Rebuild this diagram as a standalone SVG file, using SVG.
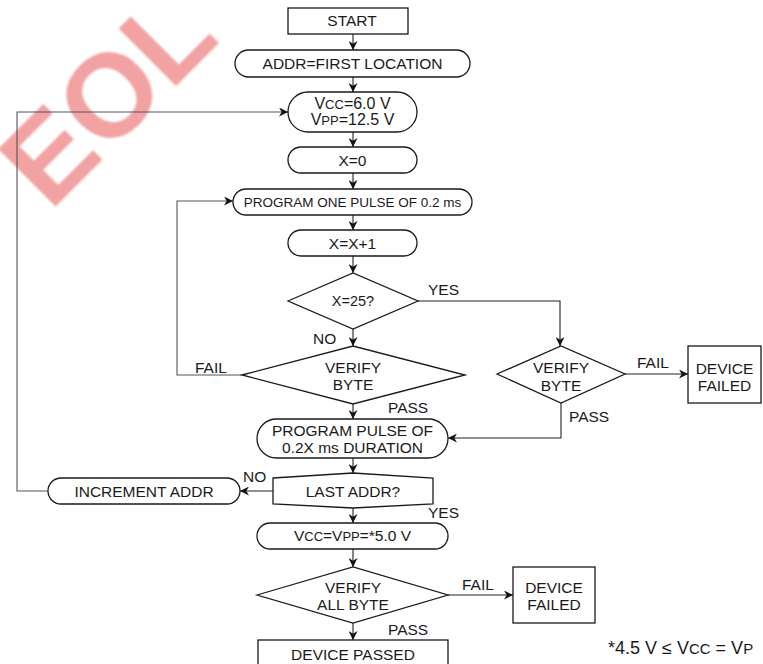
<svg xmlns="http://www.w3.org/2000/svg" width="763" height="664" viewBox="0 0 763 664">
<style>
text{font-family:"Liberation Sans",Arial,sans-serif;font-size:15.5px;fill:#1a1a1a;text-anchor:middle}
.lbl{text-anchor:start}
.sm{font-size:13px}
.shape{fill:#fff;stroke:#1a1a1a;stroke-width:1.3}
.conn{fill:none;stroke:#222;stroke-width:1.1}
.loop{fill:none;stroke:#555;stroke-width:1.1}
.wm{font-family:"Liberation Sans",Arial,sans-serif;font-size:118px;font-weight:bold;fill:#f2a2a2;text-anchor:start}
</style>
<defs>
<marker id="ah" viewBox="0 0 10 10" refX="10" refY="5" markerWidth="9" markerHeight="9" markerUnits="userSpaceOnUse" orient="auto">
<path d="M0,0 L10,5 L0,10 L3,5 Z" fill="#111"/>
</marker>
<filter id="blur"><feGaussianBlur stdDeviation="1.2"/></filter>
</defs>
<rect width="763" height="664" fill="#fff"/>
<g id="watermark" filter="url(#blur)"><text class="wm" transform="translate(50,212) rotate(-45)">EOL</text></g>

<g id="connectors">
<path class="conn" d="M353,34 V50" marker-end="url(#ah)"/>
<path class="conn" d="M353,77 V92" marker-end="url(#ah)"/>
<path class="conn" d="M353,132 V147" marker-end="url(#ah)"/>
<path class="conn" d="M353,173 V189" marker-end="url(#ah)"/>
<path class="conn" d="M353,215 V230" marker-end="url(#ah)"/>
<path class="conn" d="M353,256 V273" marker-end="url(#ah)"/>
<path class="conn" d="M418,301 H560 V346" marker-end="url(#ah)"/>
<path class="conn" d="M353,329 V346" marker-end="url(#ah)"/>
<path class="loop" d="M242,375 H177 V201 H233" marker-end="url(#ah)"/>
<path class="conn" d="M625,374 H688" marker-end="url(#ah)"/>
<path class="conn" d="M561,403 V438 H448" marker-end="url(#ah)"/>
<path class="conn" d="M353,404 V419" marker-end="url(#ah)"/>
<path class="conn" d="M353,458 V473" marker-end="url(#ah)"/>
<path class="conn" d="M273,491 H240" marker-end="url(#ah)"/>
<path class="loop" d="M48,491 H17 V112 H288" marker-end="url(#ah)"/>
<path class="conn" d="M353,508 V523" marker-end="url(#ah)"/>
<path class="conn" d="M353,549 V567" marker-end="url(#ah)"/>
<path class="conn" d="M448,595 H513" marker-end="url(#ah)"/>
<path class="conn" d="M353,623 V640" marker-end="url(#ah)"/>
</g>

<g id="labels">
<text class="lbl" x="428" y="295">YES</text>
<text class="lbl" x="313" y="344">NO</text>
<text class="lbl" x="195" y="373">FAIL</text>
<text class="lbl" x="637" y="368">FAIL</text>
<text class="lbl" x="388" y="413">PASS</text>
<text class="lbl" x="569" y="422">PASS</text>
<text class="lbl" x="243" y="482">NO</text>
<text class="lbl" x="428" y="518">YES</text>
<text class="lbl" x="462" y="590">FAIL</text>
<text class="lbl" x="388" y="635">PASS</text>
</g>

<g id="start"><rect class="shape" x="288" y="8" width="120" height="26"/><text x="352" y="26">START</text></g>
<g id="addr-first"><rect class="shape" x="235" y="50" width="235" height="27" rx="13.5"/><text x="352.5" y="69">ADDR=FIRST LOCATION</text></g>
<g id="vcc-vpp"><rect class="shape" x="288" y="92" width="129" height="40" rx="20"/>
<text x="352.5" y="109" style="font-size:16px">V<tspan class="sm">CC</tspan>=6.0 V</text>
<text x="352.5" y="125" style="font-size:16px">V<tspan class="sm">PP</tspan>=12.5 V</text></g>
<g id="x0"><rect class="shape" x="288" y="147" width="129" height="26" rx="13"/><text x="352.5" y="166">X=0</text></g>
<g id="program-one"><rect class="shape" x="233" y="189" width="239" height="26" rx="13"/><text x="352.5" y="207" style="font-size:13.5px">PROGRAM ONE PULSE OF 0.2 ms</text></g>
<g id="x-inc"><rect class="shape" x="288" y="230" width="129" height="26" rx="13"/><text x="352.5" y="249">X=X+1</text></g>
<g id="x25"><path class="shape" d="M288,301 L353,273 L418,301 L353,329 Z"/><text x="353" y="306" style="font-size:14.5px">X=25?</text></g>
<g id="verify-byte"><path class="shape" d="M242,375 L353,346 L465,375 L353,404 Z"/><text x="353" y="373">VERIFY</text><text x="353" y="390">BYTE</text></g>
<g id="verify-byte-2"><path class="shape" d="M497,374 L561,346 L625,374 L561,403 Z"/><text x="561" y="373">VERIFY</text><text x="561" y="391">BYTE</text></g>
<g id="device-failed-1"><rect class="shape" x="688" y="346" width="73" height="57"/><text x="724.5" y="374">DEVICE</text><text x="724.5" y="391">FAILED</text></g>
<g id="program-pulse"><rect class="shape" x="257" y="419" width="191" height="39" rx="19.5"/><text x="352.5" y="436">PROGRAM PULSE OF</text><text x="352.5" y="453">0.2X ms DURATION</text></g>
<g id="last-addr"><path class="shape" d="M273,478 L353,473 L433,478 L433,504 L353,508 L273,504 Z"/><text x="353" y="497">LAST ADDR?</text></g>
<g id="increment-addr"><rect class="shape" x="48" y="478" width="192" height="26" rx="13"/><text x="144" y="497">INCREMENT ADDR</text></g>
<g id="vcc-vpp-5"><rect class="shape" x="257" y="523" width="191" height="26" rx="13"/><text x="352.5" y="541">V<tspan class="sm">CC</tspan>=V<tspan class="sm">PP</tspan>=*5.0 V</text></g>
<g id="verify-all"><path class="shape" d="M257,595 L353,567 L448,595 L353,623 Z"/><text x="353" y="593">VERIFY</text><text x="353" y="610">ALL BYTE</text></g>
<g id="device-failed-2"><rect class="shape" x="513" y="567" width="82" height="56"/><text x="554" y="593">DEVICE</text><text x="554" y="610">FAILED</text></g>
<g id="device-passed"><rect class="shape" x="258" y="640" width="190" height="34"/><text x="353" y="660">DEVICE PASSED</text></g>
<g id="footnote"><text class="lbl" x="608" y="654" style="font-size:18px">*4.5 V ≤ V<tspan style="font-size:15px">CC</tspan> = V<tspan style="font-size:15px">P</tspan></text></g>
</svg>
